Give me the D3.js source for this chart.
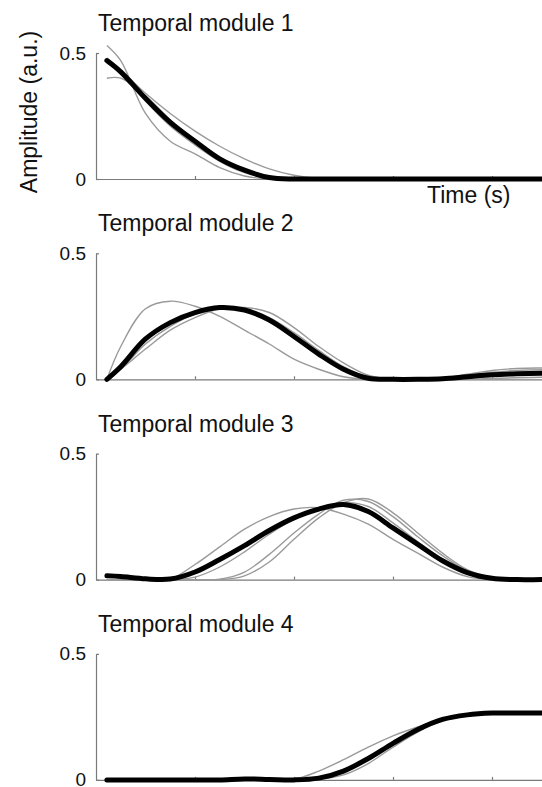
<!DOCTYPE html>
<html>
<head>
<meta charset="utf-8">
<script src="https://cdn.jsdelivr.net/npm/d3@7"></script>
<style>
  html, body { margin: 0; padding: 0; background: #fff; }
  svg { display: block; }
  text { font-family: "Liberation Sans", Arial, sans-serif; fill: #111; }
</style>
</head>
<body>
<div id="chart"></div>
<script>
// ---- data ----
const times = [0.11, 0.25, 0.5, 0.75, 1, 1.25, 1.5, 1.75, 2, 2.25, 2.5, 2.75, 3, 3.25, 3.5, 3.75, 4, 4.25, 4.5, 4.75];
const panelTitles = ["Temporal module 1", "Temporal module 2", "Temporal module 3", "Temporal module 4"];
const yTicks = [0, 0.5];
const yTickLabels = ["0", "0.5"];
const xTicks = [1, 2, 3, 4];
const yLabel = "Amplitude (a.u.)";
const xLabel = "Time (s)";

const module1Mean = [0.47, 0.425, 0.32, 0.225, 0.15, 0.08, 0.035, 0.006, 0, 0, 0, 0, 0, 0, 0, 0, 0, 0, 0, 0];
const module1Subjects = [
  [0.53, 0.47, 0.26, 0.15, 0.10, 0.045, 0.012, 0, 0, 0, 0, 0, 0, 0, 0, 0, 0, 0, 0, 0],
  [0.40, 0.40, 0.33, 0.235, 0.155, 0.085, 0.04, 0.01, 0, 0, 0, 0, 0, 0, 0, 0, 0, 0, 0, 0],
  [0.46, 0.43, 0.34, 0.26, 0.19, 0.13, 0.08, 0.04, 0.015, 0.002, 0, 0, 0, 0, 0, 0, 0, 0, 0, 0],
  [0.48, 0.43, 0.31, 0.21, 0.135, 0.07, 0.025, 0.004, 0, 0, 0, 0, 0, 0, 0, 0, 0, 0, 0, 0]
];

const module2Mean = [0, 0.05, 0.16, 0.225, 0.265, 0.285, 0.275, 0.235, 0.17, 0.10, 0.04, 0.004, 0, 0, 0.002, 0.01, 0.018, 0.022, 0.024, 0.024];
const module2Subjects = [
  [0, 0.13, 0.28, 0.31, 0.29, 0.25, 0.195, 0.14, 0.08, 0.04, 0.01, 0, 0, 0, 0, 0, 0.003, 0.006, 0.008, 0.008],
  [0, 0.04, 0.12, 0.195, 0.245, 0.28, 0.285, 0.265, 0.205, 0.13, 0.065, 0.016, 0, 0, 0.005, 0.02, 0.035, 0.043, 0.045, 0.045],
  [0, 0.04, 0.14, 0.21, 0.26, 0.285, 0.28, 0.245, 0.185, 0.115, 0.05, 0.009, 0, 0, 0.003, 0.015, 0.028, 0.035, 0.038, 0.038]
];

const module3Mean = [0.015, 0.012, 0.003, 0.002, 0.03, 0.08, 0.135, 0.195, 0.245, 0.28, 0.298, 0.27, 0.205, 0.14, 0.075, 0.028, 0.005, 0, 0, 0];
const module3Subjects = [
  [0, 0, 0, 0.002, 0.06, 0.13, 0.2, 0.25, 0.28, 0.285, 0.26, 0.22, 0.16, 0.105, 0.05, 0.012, 0, 0, 0, 0],
  [0, 0, 0, 0, 0, 0.002, 0.03, 0.1, 0.185, 0.26, 0.315, 0.31, 0.25, 0.17, 0.095, 0.035, 0.006, 0, 0, 0],
  [0, 0, 0, 0, 0, 0, 0.015, 0.07, 0.16, 0.245, 0.305, 0.32, 0.265, 0.185, 0.105, 0.04, 0.009, 0, 0, 0],
  [0, 0, 0, 0, 0.01, 0.05, 0.11, 0.18, 0.24, 0.28, 0.305, 0.29, 0.225, 0.15, 0.08, 0.03, 0.006, 0, 0, 0]
];

const module4Mean = [0, 0, 0, 0, 0, 0, 0.004, 0.002, 0, 0.007, 0.035, 0.085, 0.145, 0.2, 0.24, 0.258, 0.265, 0.265, 0.265, 0.265];
const module4Subjects = [
  [0, 0, 0, 0, 0, 0, 0, 0, 0.002, 0.035, 0.08, 0.13, 0.175, 0.21, 0.24, 0.258, 0.265, 0.266, 0.266, 0.266],
  [0, 0, 0, 0, 0, 0, 0, 0, 0, 0.003, 0.02, 0.065, 0.13, 0.19, 0.235, 0.256, 0.265, 0.265, 0.265, 0.265],
  [0, 0, 0, 0, 0, 0, 0, 0, 0, 0.005, 0.03, 0.08, 0.14, 0.195, 0.238, 0.257, 0.265, 0.265, 0.265, 0.265]
];

const means = [module1Mean, module2Mean, module3Mean, module4Mean];
const subjects = [module1Subjects, module2Subjects, module3Subjects, module4Subjects];

// ---- layout ----
const W = 542, H = 787;
const left = 96, right = 541.5;
const panelTop0 = 53, panelStep = 200.3, panelH = 126;

const svg = d3.select("#chart").append("svg").attr("width", W).attr("height", H);

const x = d3.scaleLinear().domain([0, 4.5]).range([left, right]);

panelTitles.forEach((title, i) => {
  const top = panelTop0 + i * panelStep;
  const y = d3.scaleLinear().domain([0, 0.5]).range([top + panelH, top]);
  const g = svg.append("g");

  g.append("text")
    .attr("x", 98).attr("y", top + panelH - 148)
    .attr("font-size", 23)
    .text(title);

  const yAxis = d3.axisLeft(y).tickValues(yTicks)
    .tickFormat((d, k) => yTickLabels[k])
    .tickSize(-3).tickSizeOuter(0).tickPadding(10);
  const ya = g.append("g").attr("transform", `translate(${left},0)`).call(yAxis);
  ya.selectAll("path, line").attr("stroke", "#7a7a7a").attr("stroke-width", 1.2);
  ya.selectAll("text").attr("font-size", 19).attr("fill", "#222")
    .attr("font-family", "'Liberation Sans', Arial, sans-serif");

  const xAxis = d3.axisBottom(x).tickValues(xTicks).tickFormat("")
    .tickSize(-3).tickSizeOuter(0);
  const xa = g.append("g").attr("transform", `translate(0,${y(0)})`).call(xAxis);
  xa.selectAll("path, line").attr("stroke", "#7a7a7a").attr("stroke-width", 1.2);

  const line = d3.line()
    .x((d, k) => x(times[k]))
    .y(d => y(d))
    .curve(d3.curveCatmullRom.alpha(0.5));

  subjects[i].forEach(s => {
    g.append("path").datum(s)
      .attr("d", line)
      .attr("fill", "none")
      .attr("stroke", "#9a9a9a")
      .attr("stroke-width", 1.4);
  });

  g.append("path").datum(means[i])
    .attr("d", line)
    .attr("fill", "none")
    .attr("stroke", "#000")
    .attr("stroke-width", 5)
    .attr("stroke-linejoin", "round")
    .attr("stroke-linecap", "round");
});

svg.append("text")
  .attr("transform", `translate(37,112) rotate(-90)`)
  .attr("text-anchor", "middle")
  .attr("font-size", 23)
  .text(yLabel);

svg.append("text")
  .attr("x", 427).attr("y", 203)
  .attr("font-size", 23)
  .text(xLabel);
</script>
</body>
</html>
